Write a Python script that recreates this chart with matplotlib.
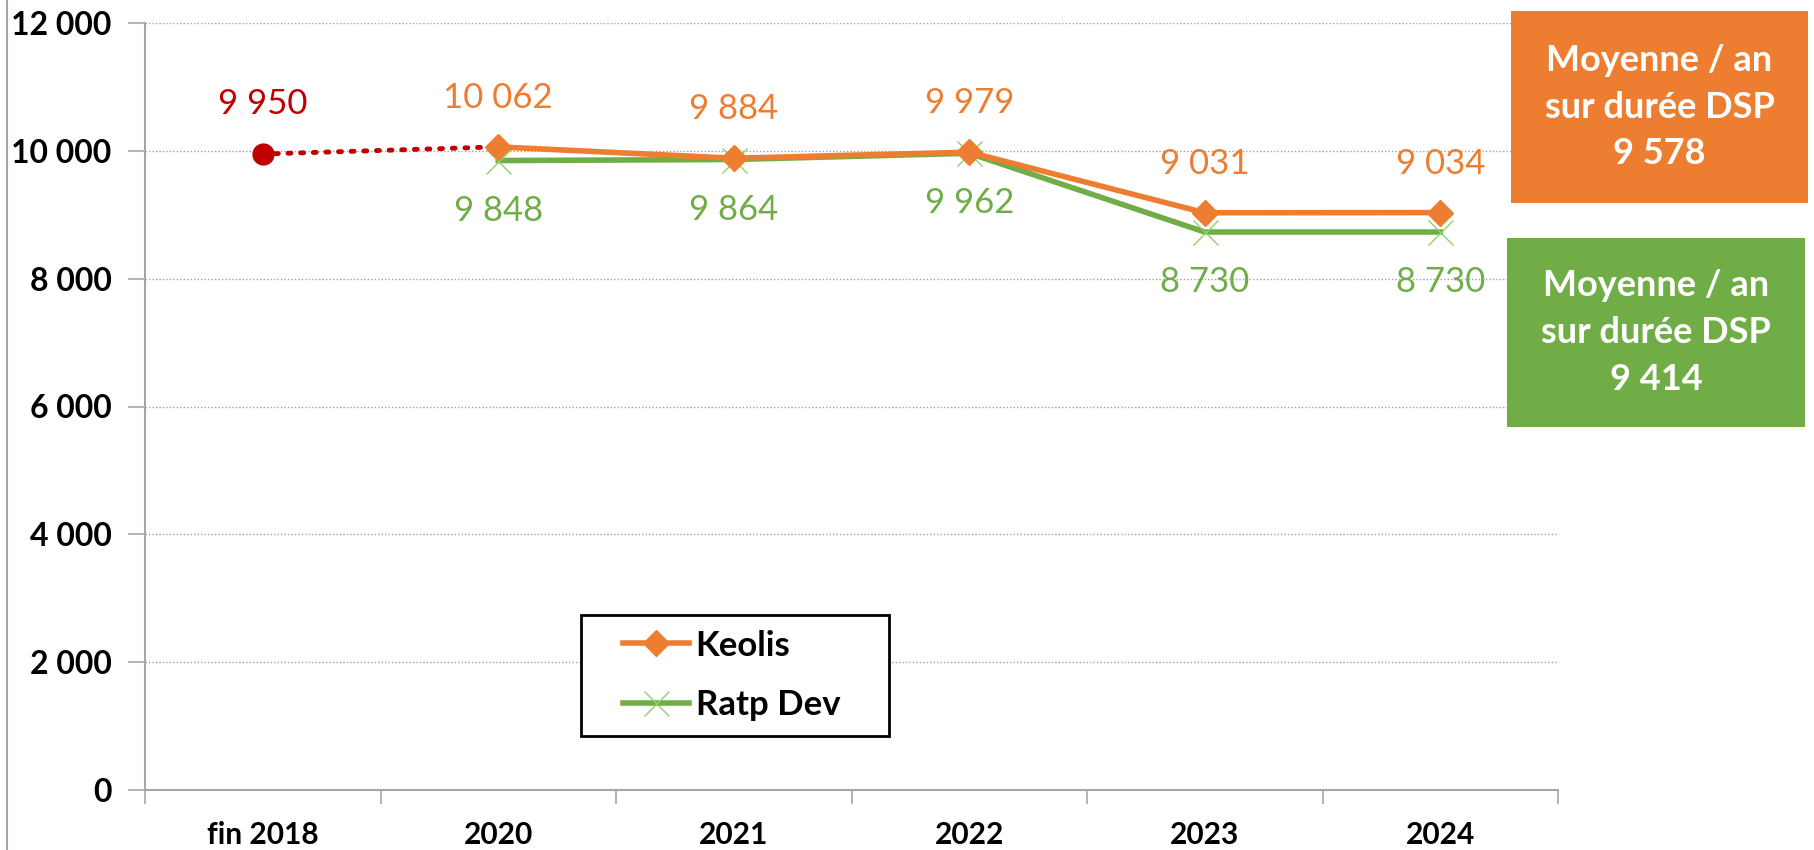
import matplotlib
matplotlib.use("Agg")
import matplotlib.pyplot as plt
from matplotlib.patches import Rectangle
from matplotlib.lines import Line2D
from matplotlib.ticker import FuncFormatter, FixedLocator

plt.rcParams['font.family'] = ['Lato', 'DejaVu Sans']

categories = ["fin 2018", "2020", "2021", "2022", "2023", "2024"]
start_value = 9950
keolis = [10062, 9884, 9979, 9031, 9034]
ratp_dev = [9848, 9864, 9962, 8730, 8730]
avg_keolis = 9578
avg_ratp = 9414
yticks = [0, 2000, 4000, 6000, 8000, 10000, 12000]

ORANGE = "#ED7D31"
GREEN = "#70AD47"
RED = "#C00000"
AXIS_GREY = "#A6A6A6"


def fr(v):
    return f"{v:,}".replace(",", " ")


fig = plt.figure(figsize=(18.14, 8.5), dpi=100)
ax = fig.add_axes([145 / 1814, 60 / 850, 1413 / 1814, 767 / 850])

x = list(range(len(categories)))
xs = x[1:]

# dotted link from fin 2018 to first Keolis point
ax.plot([x[0], xs[0]], [start_value, keolis[0]], color=RED, lw=3.5,
        linestyle=(0, (0.6, 2.0)), dash_capstyle="round", zorder=3)
ax.plot([x[0]], [start_value], "o", color=RED, ms=15, zorder=4)

ax.plot(xs, ratp_dev, color=GREEN, lw=4, marker="x", ms=18, mew=1,
        mec="#8FD16A", label="Ratp Dev", zorder=3)
ax.plot(xs, keolis, color=ORANGE, lw=4, marker="D", ms=13, mec=ORANGE,
        label="Keolis", zorder=4)

lab = dict(ha="center", va="center", fontsize=25, textcoords="offset pixels")
ax.annotate(fr(start_value), (x[0], start_value), xytext=(0, 50), color=RED, **lab)
for xi, v in zip(xs, keolis):
    ax.annotate(fr(v), (xi, v), xytext=(0, 49), color=ORANGE, **lab)
for xi, v in zip(xs, ratp_dev):
    ax.annotate(fr(v), (xi, v), xytext=(0, -50), color=GREEN, **lab)

ax.set_xlim(-0.5, len(categories) - 0.5)
ax.set_ylim(0, 12000)
ax.set_yticks(yticks)
ax.yaxis.set_major_formatter(FuncFormatter(lambda v, p: fr(int(v))))
ax.set_xticks(x)
ax.set_xticklabels(categories)
ax.xaxis.set_minor_locator(FixedLocator([i - 0.5 for i in range(len(categories) + 1)]))
ax.tick_params(axis="x", which="major", length=0, pad=22)
ax.tick_params(axis="x", which="minor", length=10, color=AXIS_GREY, width=1.2)
ax.tick_params(axis="y", length=12, color=AXIS_GREY, width=1.2, pad=12)
for t in ax.get_xticklabels():
    t.set_fontweight("bold")
    t.set_fontsize(21.5)
for t in ax.get_yticklabels():
    t.set_fontweight("bold")
    t.set_fontsize(23)

ax.grid(axis="y", color="#A0A0A0", linestyle=(0, (1, 1.5)), lw=1)
ax.set_axisbelow(True)
for s in ["top", "right"]:
    ax.spines[s].set_visible(False)
for s in ["left", "bottom"]:
    ax.spines[s].set_color(AXIS_GREY)
    ax.spines[s].set_linewidth(1.5)

# legend with a separately drawn frame
leg_box = (436 / 1413, 54 / 767, 308 / 1413, 121 / 767)
ax.add_patch(Rectangle(leg_box[:2], leg_box[2], leg_box[3], transform=ax.transAxes,
                       facecolor="white", edgecolor="black", lw=2, zorder=5))
leg = ax.legend(handles=ax.get_lines()[2:][::-1], loc="center left",
                bbox_to_anchor=leg_box, frameon=False, handlelength=1.9,
                borderpad=1.2, labelspacing=0.8, handletextpad=0.2,
                prop={"weight": "bold", "size": 25}, borderaxespad=0)
leg.set_zorder(6)

# average boxes on the right
boxes = [(1511, 11, 297, 192, ORANGE, avg_keolis),
         (1507, 238, 298, 189, GREEN, avg_ratp)]
for bx, by, bw, bh, col, val in boxes:
    fig.patches.append(Rectangle((bx / 1814, 1 - (by + bh) / 850), bw / 1814, bh / 850,
                                 transform=fig.transFigure, facecolor=col,
                                 edgecolor="none", zorder=5))
    fig.text((bx + bw / 2) / 1814, 1 - (by + bh / 2) / 850,
             "Moyenne / an\nsur durée DSP\n" + fr(val), color="white",
             ha="center", va="center", fontsize=26, fontweight="bold",
             linespacing=1.5, zorder=6)

fig.add_artist(Line2D([7 / 1814, 7 / 1814], [0, 1], color=AXIS_GREY, lw=1.5))

fig.savefig("out.png", dpi=100)
